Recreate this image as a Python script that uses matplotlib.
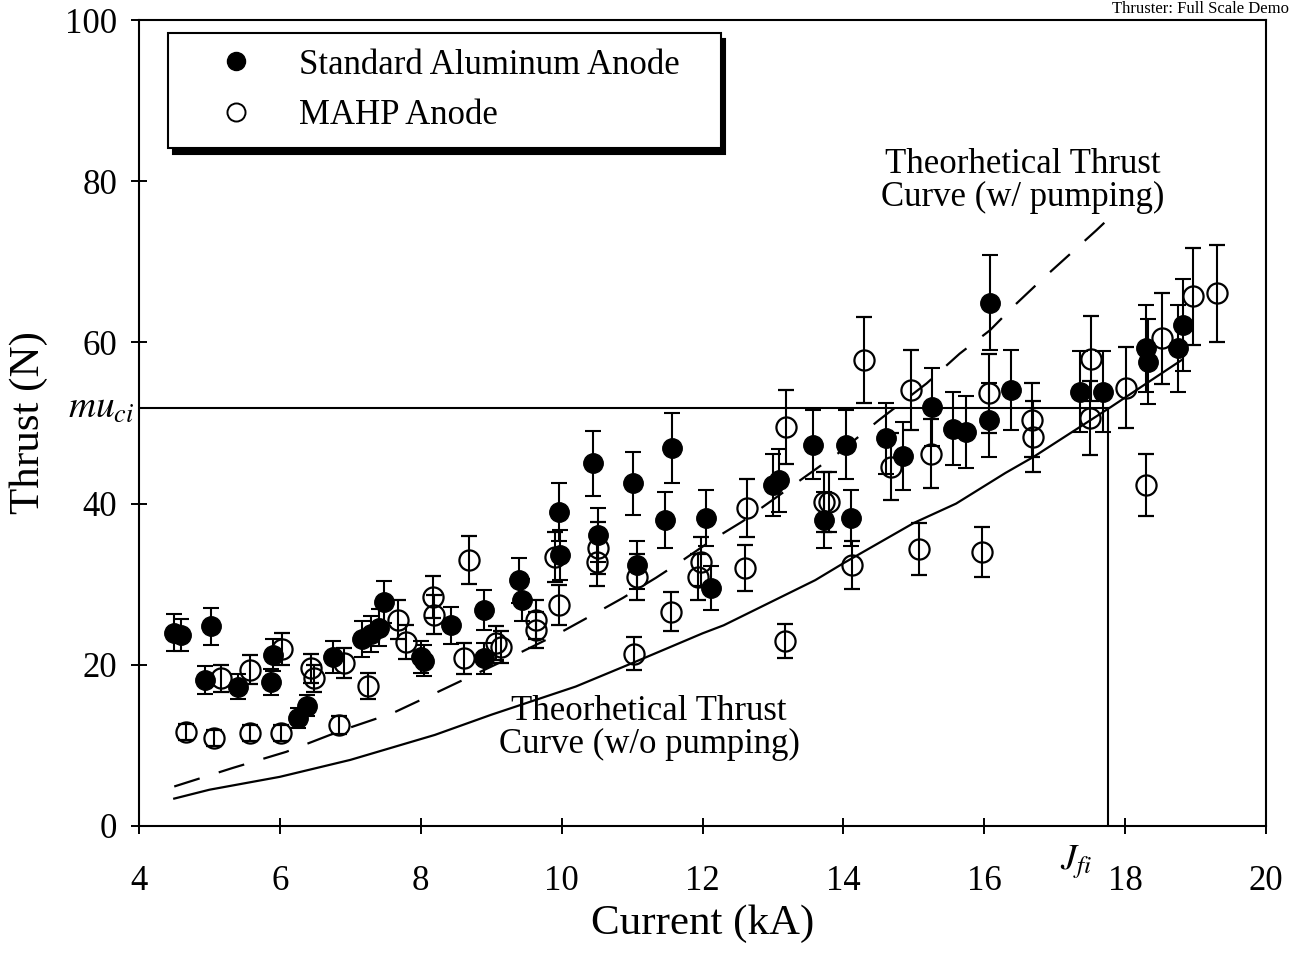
import matplotlib
matplotlib.use("Agg")
import matplotlib.pyplot as plt
from matplotlib.lines import Line2D

plt.rcParams['font.family'] = ['Liberation Serif', 'DejaVu Serif']
plt.rcParams['mathtext.fontset'] = 'stix'

# Standard Aluminum Anode (filled)
std_current = [4.50, 4.60, 5.02, 4.93, 5.40, 5.90, 5.87, 6.25, 6.39, 6.75,
               7.17, 7.30, 7.41, 7.48, 8.00, 8.05, 8.43, 8.90, 8.90, 9.40,
               9.44, 9.96, 9.97, 10.44, 10.51, 11.01, 11.07, 11.57, 11.47,
               12.05, 12.12, 13.00, 13.09, 13.57, 14.04, 13.73, 14.11, 14.61,
               14.85, 15.26, 15.56, 15.74, 16.07, 16.08, 16.38, 17.36, 17.69,
               18.30, 18.33, 18.82, 18.75]
std_thrust = [24.0, 23.7, 24.8, 18.1, 17.3, 21.2, 17.9, 13.4, 14.9, 21.0,
              23.2, 23.8, 24.6, 27.8, 21.0, 20.5, 24.9, 26.8, 20.8, 30.5,
              28.0, 39.0, 33.6, 45.0, 36.1, 42.5, 32.4, 46.9, 38.0,
              38.2, 29.5, 42.3, 42.9, 47.3, 47.3, 38.0, 38.2, 48.1,
              45.9, 52.0, 49.3, 48.9, 50.4, 64.9, 54.1, 53.9, 53.9,
              59.3, 57.6, 62.2, 59.3]
std_err = [2.3, 2.0, 2.3, 1.7, 1.6, 2.0, 1.6, 1.2, 1.3, 2.0,
           2.2, 2.2, 2.3, 2.6, 2.0, 1.9, 2.3, 2.5, 1.9, 2.8,
           2.6, 3.6, 3.1, 4.0, 3.3, 3.9, 3.0, 4.3, 3.5,
           3.5, 2.7, 3.9, 3.9, 4.3, 4.3, 3.5, 3.5, 4.4,
           4.2, 4.8, 4.5, 4.5, 4.6, 5.9, 5.0, 5.0, 5.0,
           5.4, 5.3, 5.7, 5.4]

# MAHP Anode (open)
mahp_current = [4.66, 5.07, 5.57, 6.01, 6.84, 5.16, 5.57, 6.03, 6.44, 6.49,
                6.91, 7.25, 7.67, 7.79, 8.17, 8.19, 8.62, 8.68, 9.07, 9.14,
                9.63, 9.63, 9.96, 9.90, 10.51, 10.50, 11.07, 11.03, 11.55,
                11.98, 11.93, 12.60, 12.63, 13.17, 13.19, 13.73, 13.80, 14.12,
                14.29, 14.68, 14.96, 15.07, 15.25, 15.97, 16.07, 16.68, 16.69,
                17.52, 17.50, 18.01, 18.30, 18.53, 18.96, 19.30]
mahp_thrust = [11.7, 10.9, 11.5, 11.5, 12.5, 18.3, 19.4, 22.0, 19.6, 18.3,
               20.2, 17.4, 25.6, 22.8, 28.4, 26.2, 20.8, 33.0, 22.7, 22.2,
               25.6, 24.3, 27.4, 33.4, 34.5, 32.8, 30.9, 21.4, 26.6,
               32.8, 30.9, 32.0, 39.4, 22.9, 49.5, 40.2, 40.2, 32.4,
               57.8, 44.6, 54.1, 34.4, 46.2, 34.0, 53.7, 50.4, 48.3,
               58.0, 50.6, 54.4, 42.3, 60.5, 65.7, 66.1]
mahp_err = [1.0, 1.0, 1.0, 1.0, 1.1, 1.7, 1.8, 2.0, 1.8, 1.7,
            1.9, 1.6, 2.4, 2.1, 2.6, 2.4, 1.9, 3.0, 2.1, 2.0,
            2.4, 2.2, 2.5, 3.1, 3.2, 3.0, 2.8, 2.0, 2.4,
            3.0, 2.8, 2.9, 3.6, 2.1, 4.6, 3.7, 3.7, 3.0,
            5.3, 4.1, 5.0, 3.2, 4.3, 3.1, 4.9, 4.6, 4.4,
            5.3, 4.6, 5.0, 3.9, 5.6, 6.0, 6.0]

# theoretical curves
nopump_current = [4.5, 5.0, 6.0, 7.0, 8.2, 9.0, 10.2, 11.0, 12.0, 12.3,
                  13.6, 14.0, 15.0, 15.6, 16.3, 16.7, 17.8, 18.8]
nopump_thrust = [3.4, 4.5, 6.1, 8.2, 11.3, 13.8, 17.3, 20.2, 23.9, 24.9,
                 30.5, 32.6, 37.6, 40.0, 43.8, 45.8, 52.0, 57.8]
pump_current = [4.5, 5.33, 6.09, 6.89, 7.6, 8.21, 9.2, 9.92, 10.44, 10.87,
                11.34, 11.69, 12.14, 12.57, 13.66, 13.95, 14.51, 15.18,
                15.65, 16.08, 16.43, 16.83, 17.59, 17.88]
pump_thrust = [4.9, 7.2, 9.2, 11.9, 14.0, 16.5, 20.6, 23.7, 26.2, 28.3,
               30.8, 32.8, 35.5, 37.8, 44.6, 46.4, 50.4, 54.9,
               58.6, 61.5, 64.6, 67.9, 73.9, 76.3]

MU_CI = 51.8
J_FI = 17.75

fig = plt.figure(figsize=(12.92, 9.57), dpi=100)
ax = fig.add_axes([0.1076, 0.1369, 0.8723, 0.8422])

ax.plot(nopump_current, nopump_thrust, 'k-', lw=1.6)
ax.plot(pump_current, pump_thrust, color='k', lw=1.6, dashes=(12, 9))
ax.plot([4, J_FI], [MU_CI, MU_CI], 'k-', lw=1.5)
ax.plot([J_FI, J_FI], [0, MU_CI], 'k-', lw=1.5)

ax.errorbar(std_current, std_thrust, yerr=std_err, fmt='o', color='k',
            ms=14, elinewidth=1.5, capsize=5.5, capthick=1.5)
ax.errorbar(mahp_current, mahp_thrust, yerr=mahp_err, fmt='o', color='k',
            mfc='none', ms=14.5, mew=1.6, elinewidth=1.5, capsize=5.5,
            capthick=1.5)

ax.set_xlim(4, 20)
ax.set_ylim(0, 100)
ax.set_xticks(range(4, 21, 2))
ax.set_yticks(range(0, 101, 20))
ax.tick_params(axis='both', direction='inout', length=11.5, width=1.4,
               labelsize=25)
ax.tick_params(axis='x', pad=22)
ax.tick_params(axis='y', pad=10)
for s in ax.spines.values():
    s.set_linewidth(1.5)

ax.set_xlabel('Current (kA)', fontsize=31, labelpad=5)
ax.set_ylabel('Thrust (N)', fontsize=31, labelpad=12)

ax.text(-0.063, MU_CI, r'$mu_{ci}$', fontsize=27,
        transform=ax.get_yaxis_transform(), ha='left', va='center')
ax.text(J_FI - 0.45, -4.5, r'$J_{fi}$', fontsize=26, ha='center', va='center')

ax.text(11.24, 12.2, 'Theorhetical Thrust\nCurve (w/o pumping)', fontsize=25,
        ha='center', va='center', linespacing=1.0)
ax.text(16.54, 80.0, 'Theorhetical Thrust\nCurve (w/ pumping)', fontsize=25,
        ha='center', va='center', linespacing=1.0)

fig.text(0.998, 0.999, 'Thruster: Full Scale Demo', fontsize=12,
         ha='right', va='top')

handles = [Line2D([], [], ls='none', marker='o', color='k', ms=13),
           Line2D([], [], ls='none', marker='o', color='k', mfc='none',
                  ms=13, mew=1.4)]
leg = ax.legend(handles, ['Standard Aluminum Anode', 'MAHP Anode'],
                loc='upper left', bbox_to_anchor=(0.026, 0.5, 0.49, 0.484),
                mode='expand', fontsize=25, frameon=True, fancybox=False,
                borderpad=0.45, labelspacing=0.5, handlelength=3.0,
                handletextpad=0.3, borderaxespad=0,
                shadow={'color': 'black', 'alpha': 1, 'ox': 3.5, 'oy': -4.5})
leg.get_frame().set_edgecolor('black')
leg.get_frame().set_linewidth(1.5)

fig.savefig('out.png', dpi=100)
